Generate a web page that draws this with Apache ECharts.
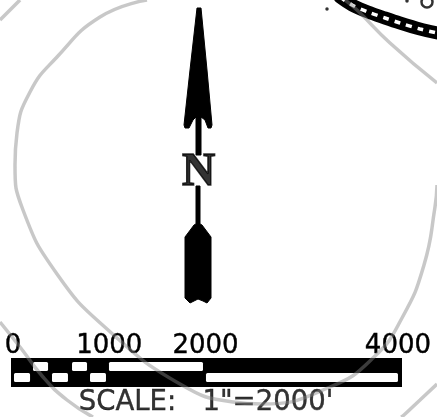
<!DOCTYPE html>
<html><head><meta charset="utf-8">
<style>html,body{margin:0;padding:0;background:#fff}#c{width:437px;height:417px}</style>
<script src="https://cdn.jsdelivr.net/npm/echarts@6/dist/echarts.min.js"></script>
</head><body><div id="c"></div>
<script>
// Scale bar (feet)
const scaleTicks = [0, 1000, 2000, 4000];
const scaleRows = ['upper', 'lower'];
const barExtent = [-21, 4042];
const upperOpen = [[208, 364], [613, 769], [997, 1974]];
const lowerOpen = [[10, 177], [405, 571], [800, 966], [2005, 4000]];
const scaleCaption = 'SCALE:   1"=2000\'';

// North arrow outline
const arrowHead = [[197,8],[201,8],[207,70],[212,125],[211,128],[208,128],[205,120],[201,117],[201,155],[196,155],[196,117],[193,120],[189,128],[185,128],[184,125],[190,70]];
const arrowShaftLow = [[196,186],[200,186],[200,224],[196,224]];
const arrowTail = [[198,223],[202,225],[211,237],[211,298],[207,303],[203,301],[198,299],[194,301],[190,303],[185,298],[185,237],[194,225]];
const northLabel = [[198.5, 173]];

// Background contours
const contourMain = [[147,0],[100,17],[57,57],[30,92],[17,133],[15,165],[23,210],[57,274],[107,329],[180,384],[233,402],[262,404],[330,387],[374,357],[402,318],[424,265],[435,207],[437,185]];
const contourCornerTL = [[20,0],[0,20]];
const contourLeft = [[0,322],[20,347],[43,377],[67,400],[93,417]];
const contourRight = [[437,384],[420,400],[404,415],[401,417]];
const contourTR = [[345,0],[357,10],[390,43],[437,83]];

// Map fragment at the top right
const chain = [[340,-3],[352,5],[368,12],[385,18],[400,23],[420,29],[437,33]];
const ring = [[427,2]];
const specks = [[327,9],[407,1]];

const GREY = 'rgba(133,133,133,0.45)';
const contourSeries = d => ({ type:'line', xAxisIndex:0, yAxisIndex:0, data:d, smooth:0.5, showSymbol:false, symbol:'none', silent:true, z:20,
  lineStyle:{ color:GREY, width:3.5 } });
const polyItem = pts => (params, api) => ({ type:'polygon',
  shape:{ points: pts.map(p => api.coord(p)) },
  style:{ fill:'#000', stroke:'#000', lineWidth:1, lineJoin:'round' } });

const openCells = [];
upperOpen.forEach(c => openCells.push([c[0], c[1], 0]));
lowerOpen.forEach(c => openCells.push([c[0], c[1], 1]));

const chart = echarts.init(document.getElementById('c'), null, { renderer:'canvas' });
chart.setOption({
  animation:false,
  backgroundColor:'#fff',
  grid:[
    { left:0, top:0, width:437, height:417, containLabel:false, outerBoundsMode:'none' },
    { left:11, top:361, width:391, height:22, containLabel:false, outerBoundsMode:'none' }
  ],
  xAxis:[
    { type:'value', gridIndex:0, min:0, max:437, show:false },
    { type:'value', gridIndex:1, min:barExtent[0], max:barExtent[1], position:'top',
      axisLine:{show:false}, axisTick:{show:false}, splitLine:{show:false},
      axisLabel:{ show:true, customValues:scaleTicks, margin:2, color:'#000', fontFamily:'DejaVu Sans', fontSize:26, hideOverlap:false,
        formatter:v => String(v), textBorderColor:'#000', textBorderWidth:0.4 } }
  ],
  yAxis:[
    { type:'value', gridIndex:0, min:0, max:417, inverse:true, show:false },
    { type:'category', gridIndex:1, data:scaleRows, inverse:true, show:false }
  ],
  series:[
    // scale bar body
    { type:'custom', xAxisIndex:1, yAxisIndex:1, silent:true, z:2, clip:false, data:[barExtent],
      renderItem:(params, api) => {
        const cs = params.coordSys;
        const a = api.coord([barExtent[0], 0])[0], b = api.coord([barExtent[1], 0])[0];
        return { type:'rect', shape:{ x:a, y:cs.y-3, width:b-a, height:cs.height+7 }, style:{ fill:'#000' } };
      } },
    // open cells of the scale bar
    { type:'custom', xAxisIndex:1, yAxisIndex:1, silent:true, z:3, clip:false, data:openCells,
      encode:{ x:[0,1], y:2 },
      renderItem:(params, api) => {
        const s = api.coord([api.value(0), api.value(2)]);
        const e = api.coord([api.value(1), api.value(2)]);
        return { type:'rect', shape:{ x:s[0], y:s[1]-4.5, width:e[0]-s[0], height:9, r:1.5 }, style:{ fill:'#fff' } };
      } },
    // caption
    { type:'scatter', xAxisIndex:0, yAxisIndex:0, silent:true, symbolSize:0, z:5, data:[[206,403]],
      label:{ show:true, position:'inside', formatter:scaleCaption, color:'#000', fontFamily:'DejaVu Sans', fontSize:27.5, textBorderColor:'#000', textBorderWidth:0.4 } },
    // north arrow
    { type:'custom', xAxisIndex:0, yAxisIndex:0, silent:true, z:4, data:[[0,0]], renderItem:polyItem(arrowHead) },
    { type:'custom', xAxisIndex:0, yAxisIndex:0, silent:true, z:4, data:[[0,0]], renderItem:polyItem(arrowShaftLow) },
    { type:'custom', xAxisIndex:0, yAxisIndex:0, silent:true, z:4, data:[[0,0]], renderItem:polyItem(arrowTail) },
    { type:'scatter', xAxisIndex:0, yAxisIndex:0, silent:true, symbolSize:0, z:5, data:northLabel,
      label:{ show:true, position:'inside', formatter:'N', color:'#000', fontFamily:'Liberation Serif', fontWeight:'bold', fontSize:46, textBorderColor:'#000', textBorderWidth:1.5 } },
    // map fragment
    { type:'line', xAxisIndex:0, yAxisIndex:0, data:chain, smooth:0.3, symbol:'none', silent:true, z:6,
      lineStyle:{ color:'#000', width:13, cap:'round' } },
    { type:'line', xAxisIndex:0, yAxisIndex:0, data:chain, smooth:0.3, symbol:'none', silent:true, z:7,
      lineStyle:{ color:'#fff', width:3.5, type:[6,6] } },
    { type:'scatter', xAxisIndex:0, yAxisIndex:0, silent:true, z:7, data:ring, symbol:'circle', symbolSize:11,
      itemStyle:{ color:'#fff', borderColor:'#000', borderWidth:2.5 } },
    { type:'scatter', xAxisIndex:0, yAxisIndex:0, silent:true, z:7, data:specks, symbol:'circle', symbolSize:3.5,
      itemStyle:{ color:'#000' } },
    // contours laid over everything
    contourSeries(contourMain),
    contourSeries(contourCornerTL),
    contourSeries(contourLeft),
    contourSeries(contourRight),
    contourSeries(contourTR)
  ]
});
</script></body></html>
